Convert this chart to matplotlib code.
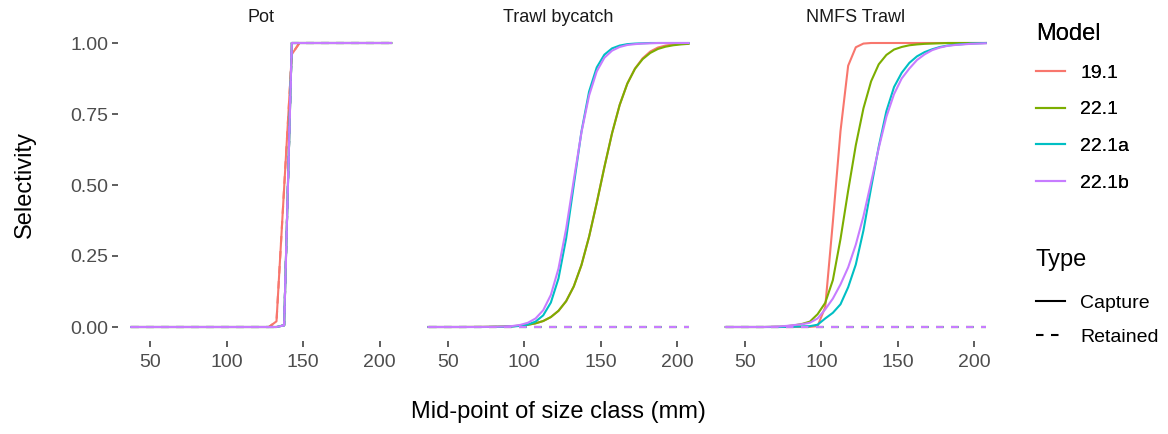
import matplotlib
matplotlib.use("Agg")
from matplotlib import pyplot as plt
from matplotlib.lines import Line2D

plt.rcParams["font.family"] = ["Liberation Sans", "DejaVu Sans"]

# mid-points of the size classes (mm)
size_mid = [37.5, 42.5, 47.5, 52.5, 57.5, 62.5, 67.5, 72.5, 77.5, 82.5,
            87.5, 92.5, 97.5, 102.5, 107.5, 112.5, 117.5, 122.5, 127.5, 132.5,
            137.5, 142.5, 147.5, 152.5, 157.5, 162.5, 167.5, 172.5, 177.5, 182.5,
            187.5, 192.5, 197.5, 202.5, 207.5]

fleets = ["Pot", "Trawl bycatch", "NMFS Trawl"]
models = ["19.1", "22.1", "22.1a", "22.1b"]
model_colors = ["#F8766D", "#7CAE00", "#00BFC4", "#C77CFF"]

# Pot capture selectivity
pot_191 = [0, 0, 0, 0, 0, 0, 0, 0, 0, 0, 0, 0, 0, 0, 0, 0, 0, 0, 0, 0.02,
           0.49, 0.96, 1, 1, 1, 1, 1, 1, 1, 1, 1, 1, 1, 1, 1]
pot_221 = [0, 0, 0, 0, 0, 0, 0, 0, 0, 0, 0, 0, 0, 0, 0, 0, 0, 0, 0, 0,
           0.006, 1, 1, 1, 1, 1, 1, 1, 1, 1, 1, 1, 1, 1, 1]
pot_221a = [0, 0, 0, 0, 0, 0, 0, 0, 0, 0, 0, 0, 0, 0, 0, 0, 0, 0, 0, 0,
            0.006, 1, 1, 1, 1, 1, 1, 1, 1, 1, 1, 1, 1, 1, 1]
pot_221b = [0, 0, 0, 0, 0, 0, 0, 0, 0, 0, 0, 0, 0, 0, 0, 0, 0, 0, 0, 0,
            0.006, 1, 1, 1, 1, 1, 1, 1, 1, 1, 1, 1, 1, 1, 1]

# Trawl bycatch capture selectivity
tb_191 = [0, 0, 0, 0, 0, 0.0001, 0.0002, 0.0003, 0.0006, 0.001, 0.0017, 0.0028,
          0.0047, 0.0078, 0.013, 0.021, 0.035, 0.057, 0.091, 0.143, 0.218, 0.318,
          0.437, 0.563, 0.682, 0.782, 0.857, 0.91, 0.946, 0.97, 0.984, 0.991,
          0.995, 0.997, 0.998]
tb_221 = [0, 0, 0, 0, 0, 0.0001, 0.0002, 0.0003, 0.0006, 0.001, 0.0017, 0.0028,
          0.0047, 0.0078, 0.013, 0.021, 0.035, 0.057, 0.091, 0.143, 0.218, 0.318,
          0.437, 0.563, 0.682, 0.782, 0.857, 0.909, 0.943, 0.965, 0.979, 0.987,
          0.992, 0.995, 0.997]
tb_221a = [0, 0, 0, 0, 0, 0, 0, 0, 0.0002, 0.0004, 0.0008, 0.0018, 0.004,
           0.0087, 0.019, 0.041, 0.086, 0.171, 0.312, 0.5, 0.688, 0.829, 0.914,
           0.959, 0.981, 0.991, 0.996, 0.998, 0.999, 1, 1, 1, 1, 1, 1]
tb_221b = [0, 0, 0, 0, 0, 0, 0, 0.0002, 0.0004, 0.0009, 0.0018, 0.0036, 0.0074,
           0.015, 0.03, 0.059, 0.113, 0.206, 0.346, 0.518, 0.685, 0.815, 0.9,
           0.948, 0.973, 0.986, 0.993, 0.996, 0.998, 0.999, 1, 1, 1, 1, 1]

# NMFS trawl survey selectivity
nm_191 = [0, 0, 0, 0, 0, 0, 0, 0, 0, 0, 0, 0.0005, 0.003, 0.07, 0.37, 0.69,
          0.92, 0.985, 0.998, 1, 1, 1, 1, 1, 1, 1, 1, 1, 1, 1, 1, 1, 1, 1, 1]
nm_221 = [0, 0, 0, 0, 0, 0, 0.0005, 0.001, 0.003, 0.006, 0.011, 0.019, 0.045,
          0.085, 0.165, 0.31, 0.48, 0.64, 0.77, 0.865, 0.925, 0.958, 0.977,
          0.986, 0.992, 0.995, 0.997, 0.998, 0.999, 1, 1, 1, 1, 1, 1]
nm_221a = [0, 0, 0, 0, 0, 0, 0, 0, 0.0005, 0.001, 0.002, 0.003, 0.008, 0.03,
           0.05, 0.08, 0.14, 0.22, 0.34, 0.49, 0.635, 0.76, 0.845, 0.895, 0.93,
           0.953, 0.968, 0.978, 0.986, 0.991, 0.994, 0.996, 0.998, 0.999, 1]
nm_221b = [0, 0, 0, 0, 0, 0, 0.001, 0.002, 0.004, 0.007, 0.01, 0.015, 0.03,
           0.062, 0.1, 0.15, 0.21, 0.29, 0.39, 0.51, 0.63, 0.74, 0.82, 0.875,
           0.91, 0.94, 0.96, 0.975, 0.984, 0.99, 0.993, 0.995, 0.997, 0.998, 0.999]

# retained: pot keeps what it catches, the trawls keep nothing
no_retention = [0, 0, 0, 0, 0, 0, 0, 0, 0, 0, 0, 0, 0, 0, 0, 0, 0, 0, 0, 0,
                0, 0, 0, 0, 0, 0, 0, 0, 0, 0, 0, 0, 0, 0, 0]

capture = {
    "Pot": [pot_191, pot_221, pot_221a, pot_221b],
    "Trawl bycatch": [tb_191, tb_221, tb_221a, tb_221b],
    "NMFS Trawl": [nm_191, nm_221, nm_221a, nm_221b],
}
retained = {
    "Pot": [pot_191, pot_221, pot_221a, pot_221b],
    "Trawl bycatch": [no_retention] * 4,
    "NMFS Trawl": [no_retention] * 4,
}

W, H = 1168, 434
fig = plt.figure(figsize=(W / 100, H / 100), dpi=100)

dash = (0, (3.6, 3.6))
lw = 1.5
panel_lefts = [118.2, 415.5, 712.8]
panel_w = 286
panel_top, panel_bot = 28.8, 341.2

for i, fleet in enumerate(fleets):
    ax = fig.add_axes([panel_lefts[i] / W, 1 - panel_bot / H,
                       panel_w / W, (panel_bot - panel_top) / H])
    for m in range(len(models)):
        ax.plot(size_mid, capture[fleet][m], color=model_colors[m], lw=lw)
        ax.plot(size_mid, retained[fleet][m], color=model_colors[m], lw=lw,
                linestyle=dash)
    ax.set_xlim(29, 216)
    ax.set_ylim(-0.05, 1.05)
    ax.set_xticks([50, 100, 150, 200])
    ax.set_yticks([0, 0.25, 0.5, 0.75, 1.0])
    if i == 0:
        ax.set_yticklabels(["0.00", "0.25", "0.50", "0.75", "1.00"])
    else:
        ax.tick_params(axis="y", left=False, labelleft=False)
    for s in ax.spines.values():
        s.set_visible(False)
    ax.tick_params(axis="both", colors="#333333", labelcolor="#4D4D4D",
                   labelsize=14, length=4, width=1.1, pad=3)
    ax.tick_params(axis="x", pad=5)
    ax.text(0.5, 1 + (panel_top - 17) / (panel_bot - panel_top), fleet,
            transform=ax.transAxes, ha="center", va="center",
            fontsize=13, color="#1A1A1A")

fig.text((118.2 + 999) / 2 / W, 1 - 412 / H, "Mid-point of size class (mm)",
         ha="center", va="center", fontsize=17)
fig.text(25 / W, 1 - 185 / H, "Selectivity", rotation=90,
         ha="center", va="center", fontsize=17)

legend_opts = dict(loc="upper left", frameon=False, fontsize=14,
                   title_fontsize=17, alignment="left", handlelength=1.5,
                   handletextpad=0.77, borderpad=0, borderaxespad=0)

model_handles = [Line2D([], [], color=c, lw=lw) for c in model_colors]
leg1 = fig.legend(model_handles, models, title="Model",
                  bbox_to_anchor=(1036 / W, 1 - 23 / H), labelspacing=0.98,
                  **legend_opts)
fig.add_artist(leg1)
type_handles = [Line2D([], [], color="black", lw=lw),
                Line2D([], [], color="black", lw=lw, linestyle=dash)]
leg2 = fig.legend(type_handles, ["Capture", "Retained"], title="Type",
                  bbox_to_anchor=(1036 / W, 1 - 249 / H), labelspacing=0.86,
                  **legend_opts)
# a bit more room between the "Type" title and its keys
leg2._legend_box.sep = 16.5

fig.savefig("out.png", dpi=100)
